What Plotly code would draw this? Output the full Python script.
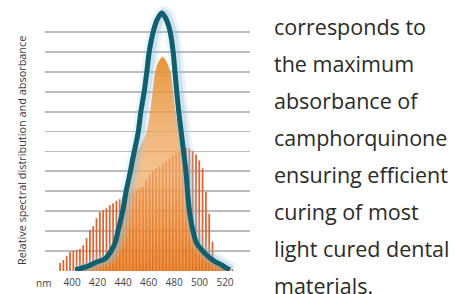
import plotly.graph_objects as go

# ---------------- data ----------------
bar_nm = [390.6, 393.2, 395.8, 398.4, 401.0, 403.6, 406.2, 408.8, 411.4, 414.0,
          416.6, 419.2, 421.8, 424.4, 427.0, 429.6, 432.2, 434.8, 437.4, 440.0,
          442.6, 445.2, 447.8, 450.4, 453.0, 455.6, 458.2, 460.8, 463.4, 466.0,
          468.6, 471.2, 473.8, 476.4, 479.0, 481.6, 484.2, 486.8, 489.4, 492.0,
          494.6, 497.2, 499.8, 502.4, 505.0, 507.6, 510.2, 512.8, 515.4, 518.0,
          520.6, 523.2, 525.8]
bar_val = [0.40, 0.55, 0.75, 0.97, 1.02, 1.05, 1.10, 1.30, 1.65, 2.05,
           2.25, 2.65, 2.97, 3.05, 3.15, 3.30, 3.40, 3.52, 3.60, 3.72,
           3.80, 3.88, 3.95, 4.05, 4.15, 4.22, 4.55, 4.85, 5.00, 5.15,
           5.25, 5.40, 5.50, 5.65, 5.78, 5.93, 6.05, 6.12, 6.18, 6.15,
           6.03, 5.85, 5.55, 5.15, 3.97, 2.88, 1.47, 0.47, 0.39, 0.30,
           0.22, 0.14, 0.09]

# absorbance curve (teal)
abs_nm = [402.4, 411.5, 419.5, 426.0, 430.6, 433.7, 436.3, 439.8, 442.4, 445.5,
          447.8, 450.3, 452.0, 453.9, 456.5, 458.6, 460.6, 463.8, 466.7, 470.4,
          473.7, 476.9, 479.3, 480.8, 482.2, 483.8, 485.6, 487.3, 489.2, 490.5,
          492.0, 494.7, 497.8, 501.7, 506.9, 512.2, 517.4, 521.3, 523.9]
abs_val = [0.05, 0.22, 0.45, 0.62, 1.00, 1.40, 2.06, 3.03, 3.98, 4.91,
           5.68, 6.43, 7.00, 7.95, 8.96, 9.96, 11.02, 12.03, 12.60, 12.95,
           12.66, 12.03, 11.02, 9.96, 8.96, 7.95, 7.00, 6.10, 5.08, 4.07,
           3.07, 2.06, 1.39, 1.06, 0.72, 0.47, 0.30, 0.14, 0.05]

# smoothed emission envelope (orange fill)
emis_nm = [402.4, 411.5, 419.5, 426.0, 430.6, 433.7, 436.3, 439.8, 442.4, 445.5,
           447.8, 453.5, 458.6, 461.2, 463.1, 465.1, 467.8, 471.1, 474.1, 477.3,
           479.5, 481.3, 484.0, 487.3, 489.2, 490.5, 492.0, 494.7, 497.8, 501.7,
           506.9, 512.2, 517.4, 521.3, 523.9]
emis_val = [0.05, 0.22, 0.45, 0.62, 1.00, 1.40, 2.06, 3.03, 3.98, 4.91,
            5.68, 6.25, 7.00, 7.95, 8.96, 9.96, 10.50, 10.74, 10.50, 9.96,
            8.96, 7.95, 7.00, 6.10, 5.08, 4.07, 3.07, 2.06, 1.39, 1.06,
            0.72, 0.47, 0.30, 0.14, 0.05]

tick_vals = [400, 420, 440, 460, 480, 500, 520]
tick_text = ["400", "420", "440", "460", "480", "500", "520"]
grid_vals = [1, 2, 3, 4, 5, 6, 7, 8, 9, 10, 11, 12]

side_text = ["corresponds to", "the maximum", "absorbance of", "camphorquinone",
             "ensuring efficient", "curing of most", "light cured dental",
             "materials."]
y_title = "Relative spectral distribution and absorbance"
unit_label = "nm"

# ---------------- styles ----------------
FONT = "Open Sans"
GLOW_SHIFT = 1.6

fig = go.Figure()

fig.add_trace(go.Bar(x=bar_nm, y=bar_val, width=1.35,
                     marker=dict(color="#e2602a", line=dict(width=0)),
                     hoverinfo="skip"))

fig.add_trace(go.Scatter(
    x=emis_nm, y=emis_val, mode="lines", line=dict(width=0, shape="spline", smoothing=0.8),
    fill="tozeroy",
    fillgradient=dict(type="vertical", start=0, stop=10.74,
                      colorscale=[[0, "rgba(228,118,24,0.80)"],
                                  [0.15, "rgba(232,134,44,0.74)"],
                                  [0.45, "rgba(240,172,104,0.74)"],
                                  [0.7, "rgba(236,160,84,0.80)"],
                                  [1, "rgba(230,140,40,0.92)"]]),
    hoverinfo="skip"))

glow_x = [v + GLOW_SHIFT for v in abs_nm]
fig.add_trace(go.Scatter(x=glow_x, y=abs_val, mode="lines",
                         line=dict(width=15, color="rgba(160,200,222,0.22)",
                                   shape="spline", smoothing=0.8),
                         hoverinfo="skip"))
fig.add_trace(go.Scatter(x=glow_x, y=abs_val, mode="lines",
                         line=dict(width=9, color="rgba(140,188,214,0.32)",
                                   shape="spline", smoothing=0.8),
                         hoverinfo="skip"))
fig.add_trace(go.Scatter(x=abs_nm, y=abs_val, mode="lines",
                         line=dict(width=5, color="#0f5f6f", shape="spline", smoothing=0.8),
                         hoverinfo="skip"))

annotations = []
for i, line in enumerate(side_text):
    ypx = 26.5 + i * 37.0
    annotations.append(dict(text=line, xref="paper", yref="paper",
                            x=(272 - 45) / 205, y=(271 - ypx) / 265,
                            xanchor="left", yanchor="middle", showarrow=False,
                            font=dict(family=FONT, size=21.5, color="#2a2a2a")))
annotations.append(dict(text=y_title, xref="paper", yref="paper",
                        x=(21 - 45) / 205, y=(271 - 151) / 265, textangle=-90,
                        xanchor="center", yanchor="middle", showarrow=False,
                        font=dict(family=FONT, size=10.9, color="#3a3a3a")))
annotations.append(dict(text=unit_label, xref="paper", yref="paper",
                        x=(43 - 45) / 205, y=(271 - 283) / 265,
                        xanchor="center", yanchor="middle", showarrow=False,
                        font=dict(family=FONT, size=10, color="#444444")))

fig.update_layout(
    width=454, height=294,
    margin=dict(l=45, r=204, t=6, b=23, autoexpand=False),
    paper_bgcolor="white", plot_bgcolor="white",
    showlegend=False, barmode="overlay", hovermode=False,
    annotations=annotations,
    xaxis=dict(range=[378.8, 539.6], tickvals=tick_vals, ticktext=tick_text,
               showgrid=False, zeroline=False, showline=False, ticks="",
               automargin=False, ticklabelstandoff=4,
               tickfont=dict(family=FONT, size=10, color="#444444")),
    yaxis=dict(range=[0, 13.3], tickvals=grid_vals, showticklabels=False,
               showgrid=True, gridcolor="#bcbcc0", gridwidth=1.8,
               automargin=False,
               zeroline=False, showline=False, ticks=""),
)

fig.write_html("out.html", config={"displayModeBar": False, "staticPlot": True},
               post_script="document.body.style.margin='0';document.body.style.overflow='hidden';")
